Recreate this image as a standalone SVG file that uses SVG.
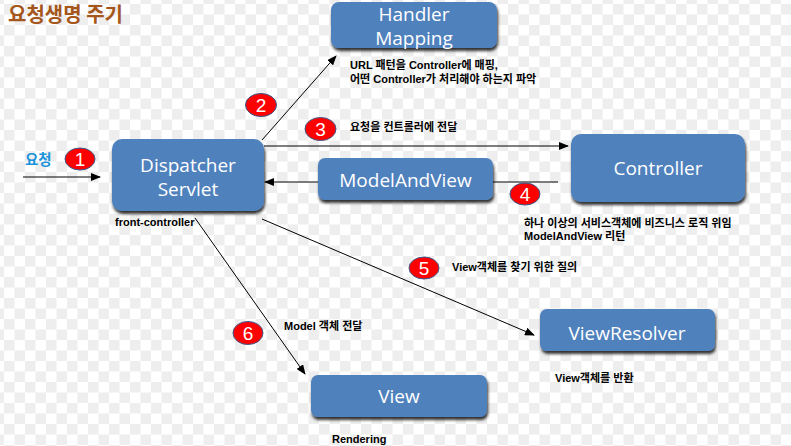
<svg xmlns="http://www.w3.org/2000/svg" width="791" height="446" viewBox="0 0 791 446">
<defs>
<pattern id="chk" x="4" y="4" width="21" height="21" patternUnits="userSpaceOnUse">
<rect width="21" height="21" fill="#ffffff"/>
<rect width="10.5" height="10.5" fill="#eeeeee"/>
<rect x="10.5" y="10.5" width="10.5" height="10.5" fill="#eeeeee"/>
</pattern>
<filter id="sh" x="-10%" y="-20%" width="120%" height="150%">
<feDropShadow dx="1" dy="3" stdDeviation="1.5" flood-color="#000" flood-opacity="0.8"/>
</filter>
<marker id="arr" markerWidth="10" markerHeight="8" refX="9" refY="4" orient="auto" markerUnits="userSpaceOnUse">
<path d="M0,0 L10,4 L0,8 Z" fill="#000"/>
</marker>
</defs>
<style>
.box{fill:#4F81BD;filter:url(#sh)}
.bt{fill:#fff;font-family:"Open Sans","Noto Sans",sans-serif;font-size:19px;text-anchor:middle}
.lb{fill:#000;font-family:"Liberation Sans","Noto Sans CJK KR",sans-serif;font-size:11px;font-weight:bold}
.num{fill:#FF0000;stroke:#3A5A8C;stroke-width:1}
.nt{fill:#fff;font-family:"Liberation Sans",sans-serif;font-size:19px;text-anchor:middle}
.ln{stroke:#000;stroke-width:1;fill:none}
</style>
<rect width="791" height="446" fill="url(#chk)"/>
<text x="8" y="22" font-family="'Noto Sans CJK KR',sans-serif" font-size="20" font-weight="bold" fill="#A5561B">요청생명 주기</text>

<g id="connectors">
<line class="ln" x1="23" y1="177" x2="100" y2="177" marker-end="url(#arr)"/>
<line class="ln" x1="262" y1="140" x2="336" y2="56" marker-end="url(#arr)"/>
<line class="ln" x1="264" y1="146" x2="568" y2="146" marker-end="url(#arr)"/>
<line class="ln" x1="558" y1="182" x2="493" y2="182"/>
<line class="ln" x1="318" y1="182" x2="265" y2="182" marker-end="url(#arr)"/>
<line class="ln" x1="262" y1="219" x2="534" y2="335" marker-end="url(#arr)"/>
<line class="ln" x1="195" y1="218" x2="305" y2="374" marker-end="url(#arr)"/>
</g>

<g id="handler-mapping">
<rect class="box" x="331" y="2" width="166" height="46" rx="8"/>
<text class="bt" x="414" y="20.5" font-size="18.5">Handler</text>
<text class="bt" x="414" y="44.5" font-size="18.5">Mapping</text>
</g>
<g id="dispatcher-servlet">
<rect class="box" x="112" y="139" width="152" height="72" rx="10"/>
<text class="bt" x="188" y="172">Dispatcher</text>
<text class="bt" x="188" y="196">Servlet</text>
</g>
<g id="controller">
<rect class="box" x="571" y="134" width="174" height="68" rx="10"/>
<text class="bt" x="658" y="175">Controller</text>
</g>
<g id="model-and-view">
<rect class="box" x="318" y="158" width="175" height="42" rx="7"/>
<text class="bt" x="405.5" y="187">ModelAndView</text>
</g>
<g id="view-resolver">
<rect class="box" x="540" y="309" width="175" height="42" rx="7"/>
<text class="bt" x="627" y="340">ViewResolver</text>
</g>
<g id="view">
<rect class="box" x="311" y="375" width="176" height="42" rx="7"/>
<text class="bt" x="399" y="403">View</text>
</g>

<g id="step-1">
<ellipse class="num" cx="80" cy="159" rx="15" ry="11"/>
<text class="nt" x="80" y="166">1</text>
</g>
<g id="step-2">
<ellipse class="num" cx="261" cy="105" rx="15.5" ry="11.5"/>
<text class="nt" x="261" y="112">2</text>
</g>
<g id="step-3">
<ellipse class="num" cx="320.5" cy="129" rx="15.5" ry="11.5"/>
<text class="nt" x="320.5" y="136">3</text>
</g>
<g id="step-4">
<ellipse class="num" cx="525" cy="194" rx="15" ry="11"/>
<text class="nt" x="525" y="201">4</text>
</g>
<g id="step-5">
<ellipse class="num" cx="424" cy="268" rx="15" ry="11"/>
<text class="nt" x="424" y="275">5</text>
</g>
<g id="step-6">
<ellipse class="num" cx="248" cy="333" rx="15" ry="11.5"/>
<text class="nt" x="248" y="340">6</text>
</g>

<text x="25" y="165" font-family="'Noto Sans CJK KR',sans-serif" font-size="14.5" font-weight="bold" fill="#2094DA">요청</text>
<text class="lb" x="115" y="226">front-controller</text>
<text class="lb" x="350" y="69">URL 패턴을 Controller에 매핑,</text>
<text class="lb" x="350" y="83">어떤 Controller가 처리해야 하는지 파악</text>
<text class="lb" x="350" y="131">요청을 컨트롤러에 전달</text>
<text class="lb" x="524" y="227" font-size="11.5">하나 이상의 서비스객체에 비즈니스 로직 위임</text>
<text class="lb" x="524" y="240">ModelAndView 리턴</text>
<text class="lb" x="452" y="271">View객체를 찾기 위한 질의</text>
<text class="lb" x="555" y="382">View객체를 반환</text>
<text class="lb" x="284" y="330">Model 객체 전달</text>
<text class="lb" x="332" y="443">Rendering</text>
</svg>
